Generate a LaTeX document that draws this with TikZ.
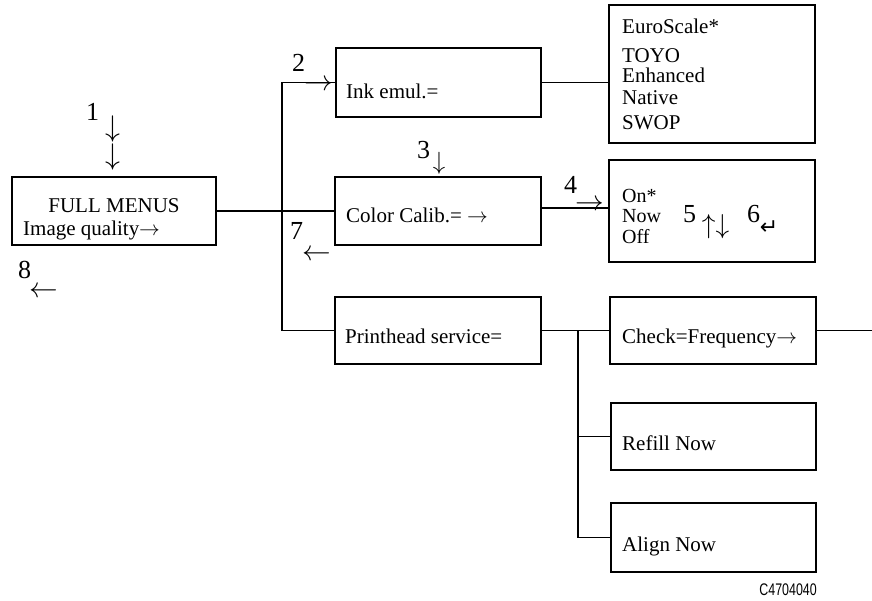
\documentclass[tikz,border=0pt]{standalone}
\usepackage{fontspec}
\setmainfont{Liberation Serif}
\newfontfamily\dejavu{DejaVu Sans}
\newfontfamily\labsans{Liberation Sans}
\begin{document}
\begin{tikzpicture}[x=1pt,y=-1pt,
  box/.style={draw, line width=1.2pt, inner sep=0pt},
  wire/.style={line width=1.2pt},
  lbl/.style={font=\fontsize{21}{24}\selectfont, anchor=base west, inner sep=0pt},
  sml/.style={font=\fontsize{20}{22}\selectfont, anchor=base west, inner sep=0pt},
  num/.style={font=\fontsize{26}{30}\selectfont, anchor=base west, inner sep=0pt},
  arr/.style={font=\fontsize{25}{30}\selectfont, inner sep=0pt}]
\useasboundingbox[fill=white] (0,0) rectangle (872,600);

% boxes
\node[box, minimum width=204pt, minimum height=68pt] (full) at (114,211) {};
\node[box, minimum width=205pt, minimum height=69pt] (ink) at (438.5,82.5) {};
\node[box, minimum width=206pt, minimum height=68pt] (color) at (438,211) {};
\node[box, minimum width=206pt, minimum height=67pt] (ph) at (438,330.5) {};
\node[box, minimum width=206pt, minimum height=138pt] (emul) at (712,74) {};
\node[box, minimum width=206pt, minimum height=102pt] (onoff) at (712,211) {};
\node[box, minimum width=206pt, minimum height=67pt] (check) at (713,330.5) {};
\node[box, minimum width=205pt, minimum height=67pt] (refill) at (713.5,436.5) {};
\node[box, minimum width=205pt, minimum height=69pt] (align) at (713.5,537.5) {};

% connectors
\coordinate (vb) at (282,330.5);
\coordinate (j) at (578,330.5);
\coordinate (out) at (872,330.5);
\draw[wire] (full.east) -- (color.west);
\draw[wire] (ink.west) -| (vb) -- (ph.west);
\draw[wire] (ink.east) -- (ink.east -| emul.west);
\draw[wire] ([yshift=3pt]color.east) -- ([yshift=3pt]color.east -| onoff.west);
\draw[wire] (ph.east) -- (check.west);
\draw[wire] (j) |- (align.west);
\draw[wire] (j |- refill.west) -- (refill.west);
\draw[wire] (check.east) -- (out);

% box texts
\node[lbl, anchor=base] (tfull) at (114,212) {FULL MENUS};
\node[lbl] (timg) at (23,235) {Image quality$\rightarrow$};
\node[lbl] (tink) at (346,98) {Ink emul.=};
\node[lbl] (tcol) at (346,222) {Color Calib.= $\rightarrow$};
\node[lbl] (tph) at (345,343) {Printhead service=};
\node[lbl] (tchk) at (622,343) {Check=Frequency$\rightarrow$};
\node[lbl] (tref) at (622,450) {Refill Now};
\node[lbl] (tali) at (622,551) {Align Now};
\node[lbl] (e1) at (622,33) {EuroScale*};
\node[lbl] (e2) at (622,62) {TOYO};
\node[lbl] (e3) at (622,82) {Enhanced};
\node[lbl] (e4) at (622,104) {Native};
\node[lbl] (e5) at (622,129) {SWOP};
\node[sml] (o1) at (622,202) {On*};
\node[sml] (o2) at (622,222) {Now};
\node[sml] (o3) at (622,243) {Off};

% step numbers
\node[num] (n1) at (86,120) {1};
\node[num] (n2) at (292,71) {2};
\node[num] (n3) at (417,158) {3};
\node[num] (n4) at (564,193) {4};
\node[num] (n5) at (683,222) {5};
\node[num] (n6) at (747,222) {6};
\node[num] (n7) at (290,239) {7};
\node[num] (n8) at (18,278) {8};

% step arrows
\node[arr, align=center, font=\fontsize{25}{25}\selectfont] (a1) at (113,143) {\scalebox{1.2}{$\downarrow$}\\\scalebox{1.2}{$\downarrow$}};
\node[arr] (a2) at (319,85) {\scalebox{1.15}{$\rightarrow$}};
\node[arr] (a3) at (439,163) {$\downarrow$};
\node[arr] (a4) at (590,205) {\scalebox{1.15}{$\rightarrow$}};
\node[arr] (a5) at (715.5,226.5) {\scalebox{1.1}{$\uparrow\downarrow$}};
\node[arr, font=\dejavu\fontsize{22}{26}\selectfont] (a6) at (769,228) {↵};
\node[arr] (a7) at (317,255) {\scalebox{1.15}{$\leftarrow$}};
\node[arr] (a8) at (44,292) {\scalebox{1.15}{$\leftarrow$}};

\node[anchor=base east, inner sep=0pt, font=\labsans\fontsize{16.8}{18}\selectfont] (code) at (817,595) {\scalebox{0.74}[1]{C4704040}};
\end{tikzpicture}
\end{document}
